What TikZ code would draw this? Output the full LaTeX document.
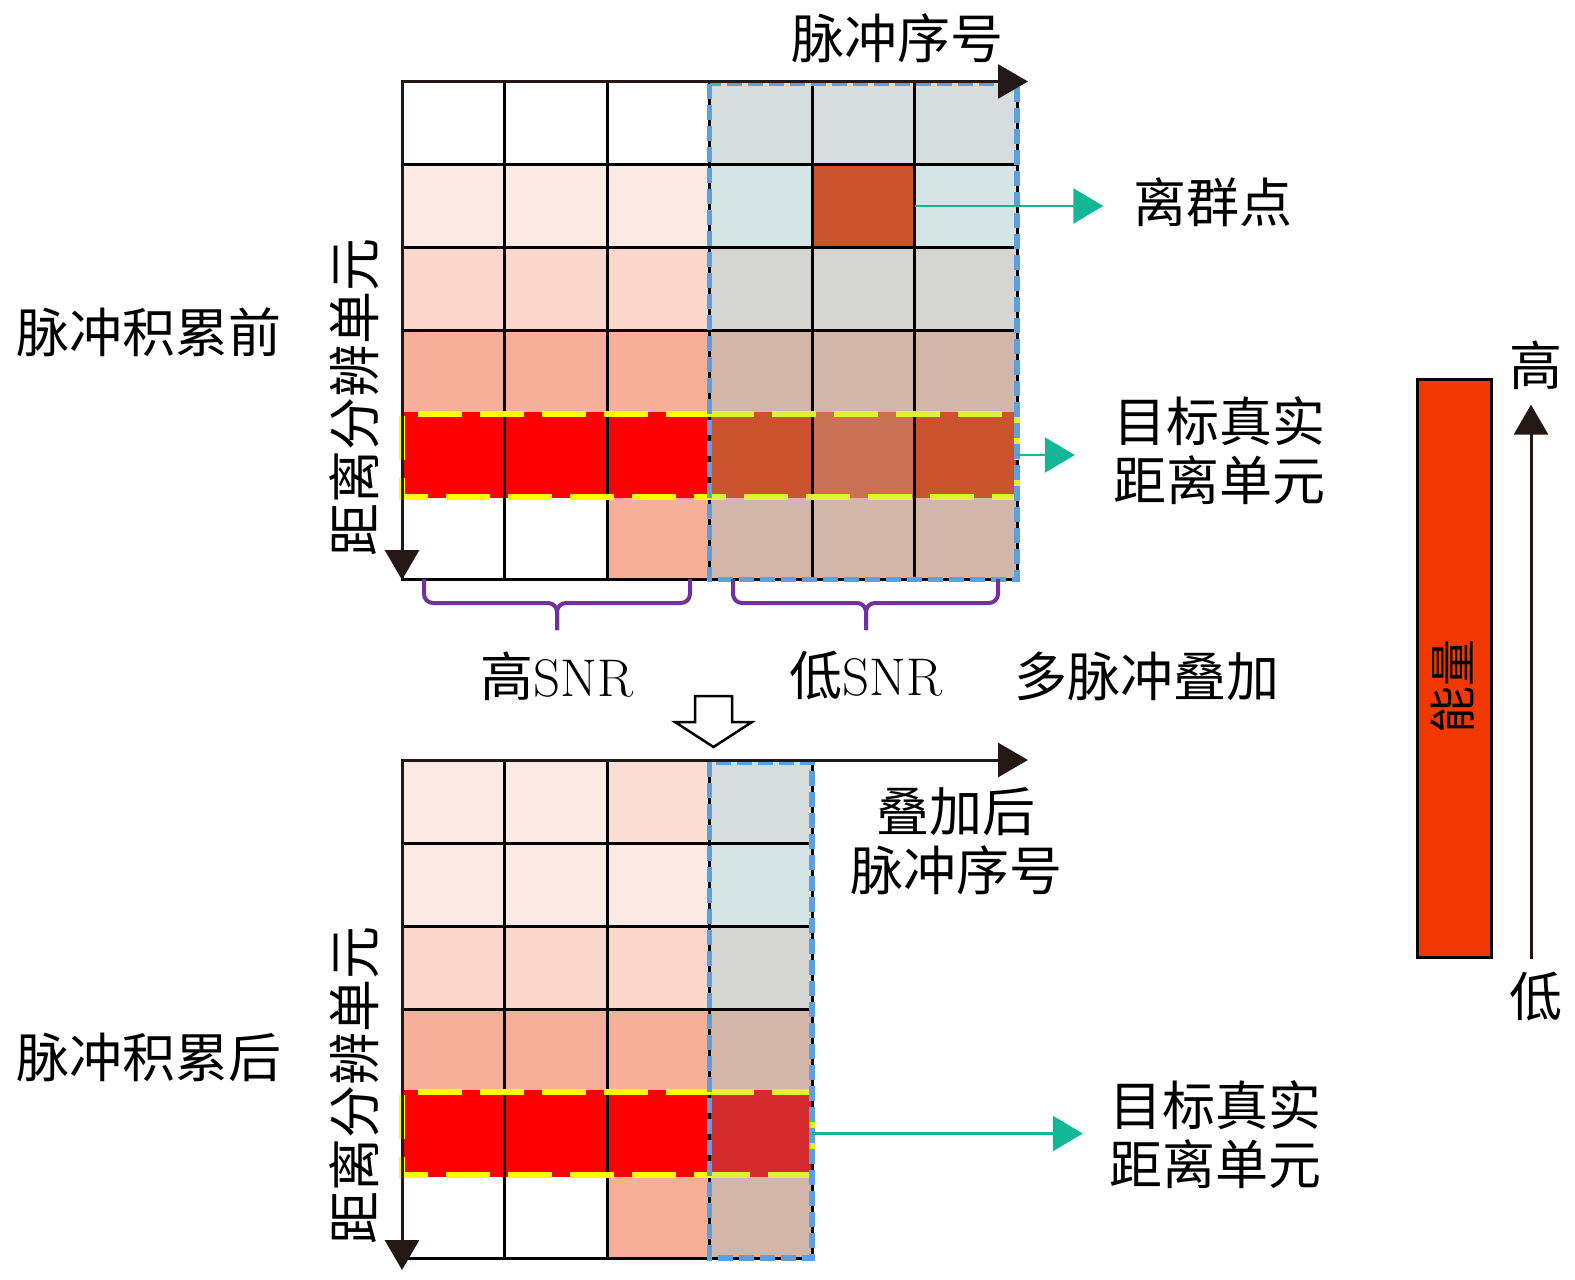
\documentclass[tikz,border=0pt]{standalone}
\usepackage{fontspec}
\newfontfamily\cjk{Noto Sans CJK SC}
\usepackage{tikz}
\usetikzlibrary{arrows.meta}

\definecolor{axisblack}{HTML}{231815}
\definecolor{tealc}{HTML}{13B796}
\definecolor{purplec}{HTML}{7030A0}
\definecolor{bluec}{HTML}{5DA0E0}
\definecolor{yellowc}{HTML}{FFFF00}
\definecolor{ygreenc}{HTML}{E2F03A}
\definecolor{barc}{HTML}{F03800}
% cell colours
\definecolor{pA}{HTML}{FCEAE4}
\definecolor{pB}{HTML}{FBDFD6}
\definecolor{pC}{HTML}{FAD6CC}
\definecolor{pD}{HTML}{F7AF99}
\definecolor{pR}{HTML}{FF0000}
\definecolor{gA}{HTML}{D5DEDC}
\definecolor{gB}{HTML}{D5E5E5}
\definecolor{gC}{HTML}{D5D6D2}
\definecolor{gD}{HTML}{D2B6AA}
\definecolor{gO}{HTML}{CB532E}
\definecolor{gM}{HTML}{CC7254}
\definecolor{gR}{HTML}{D42B2E}

\begin{document}
\begin{tikzpicture}[x=1pt, y=-1pt]

   %Styles of cells, boxes and arrows
   \tikzstyle{cell} = [rectangle, minimum width=102.5pt, minimum height=83pt, inner sep=0pt, outer sep=0pt, draw=black, line width=3pt]
   \tikzstyle{axisarrow} = [draw=axisblack, line width=3pt, -{Triangle[length=30pt,width=34pt]}]
   \tikzstyle{tealarrow} = [draw=tealc, line width=2.5pt, -{Triangle[length=30pt,width=35pt]}]
   \tikzstyle{bluebox} = [draw=bluec, line width=5.5pt, dash pattern=on 15pt off 6pt]
   \tikzstyle{yellowbox} = [draw=yellowc, line width=6pt, dash pattern=on 44pt off 18pt]
   \tikzstyle{bracket} = [draw=purplec, line width=4pt, rounded corners=9pt]
   \tikzstyle{txt} = [inner sep=0pt, align=center, font=\fontsize{53}{59}\selectfont]
   \tikzstyle{energybar} = [rectangle, minimum width=74pt, minimum height=578pt, draw=black, line width=3pt, fill=barc]

   \useasboundingbox (0,0) rectangle (1575,1280);

   %Grid before integration
   \foreach \cols [count=\r] in {{white,white,white,gA,gA,gA},{pA,pA,pA,gB,gO,gB},{pC,pC,pC,gC,gC,gC},{pD,pD,pD,gD,gD,gD},{pR,pR,pR,gO,gM,gO},{white,white,pD,gD,gD,gD}} {
      \foreach \col [count=\c] in \cols {
         \node[cell, fill=\col] (pre-\r-\c) at ({402+(\c-0.5)*102.5}, {81.5+(\r-0.5)*83}) {};
      }
   }
   %no horizontal lines along the target row
   \foreach \col [count=\c] in {pR,pR,pR,gO,gM,gO} {
      \draw[draw=\col, line width=3.5pt] ([xshift=1.5pt]pre-5-\c.north west) -- ([xshift=-1.5pt]pre-5-\c.north east);
      \draw[draw=\col, line width=3.5pt] ([xshift=1.5pt]pre-5-\c.south west) -- ([xshift=-1.5pt]pre-5-\c.south east);
   }

   %Grid after integration
   \foreach \cols [count=\r] in {{pA,pA,pB,gA},{pA,pA,pA,gB},{pC,pC,pC,gC},{pD,pD,pD,gD},{pR,pR,pR,gR},{white,white,pD,gD}} {
      \foreach \col [count=\c] in \cols {
         \node[cell, fill=\col] (post-\r-\c) at ({402+(\c-0.5)*102.5}, {760+(\r-0.5)*83}) {};
      }
   }
   \foreach \col [count=\c] in {pR,pR,pR,gR} {
      \draw[draw=\col, line width=3.5pt] ([xshift=1.5pt]post-5-\c.north west) -- ([xshift=-1.5pt]post-5-\c.north east);
      \draw[draw=\col, line width=3.5pt] ([xshift=1.5pt]post-5-\c.south west) -- ([xshift=-1.5pt]post-5-\c.south east);
   }

   %Dashed boxes
   \draw[yellowbox] (pre-5-4.north west) -| (pre-5-1.south west) -- (pre-5-4.south west);
   \draw[yellowbox, draw=ygreenc] (pre-5-4.north west) -| (pre-5-6.south east) -- (pre-5-4.south west);
   \draw[yellowbox] (post-5-4.north west) -| (post-5-1.south west) -- (post-5-4.south west);
   \draw[yellowbox, draw=ygreenc] (post-5-4.north west) -| (post-5-4.south east) -- (post-5-4.south west);
   \draw[bluebox] ([yshift=-2pt]pre-1-4.north west) rectangle (pre-6-6.south east);
   \draw[bluebox] ([yshift=-2pt]post-1-4.north west) rectangle (post-6-4.south east);

   %Axes
   \coordinate (pre-xend) at (1028,81.5);
   \coordinate (pre-yend) at (402,580);
   \coordinate (post-xend) at (1028,760);
   \coordinate (post-yend) at (402,1270);
   \draw[axisarrow] (pre-1-1.north west) -- (pre-xend);
   \draw[axisarrow] (pre-1-1.north west) -- (pre-yend);
   \draw[axisarrow] (post-1-1.north west) -- (post-xend);
   \draw[axisarrow] (post-1-1.north west) -- (post-yend);

   %Texts
   \node[txt] (seq-pre) at (897,38) {\cjk 脉冲序号};
   \node[txt] (seq-post) at (956,841) {\cjk 叠加后\\\cjk 脉冲序号};
   \node[txt] (before) at (149,332) {\cjk 脉冲积累前};
   \node[txt] (after) at (149,1057) {\cjk 脉冲积累后};
   \node[txt, rotate=90] (range-pre) at (354,397) {\cjk 距离分辨单元};
   \node[txt, rotate=90] (range-post) at (354,1085) {\cjk 距离分辨单元};
   \node[txt] (outlier) at (1213,202) {\cjk 离群点};
   \node[txt] (target-pre) at (1219,451) {\cjk 目标真实\\\cjk 距离单元};
   \node[txt] (target-post) at (1215,1135) {\cjk 目标真实\\\cjk 距离单元};
   \node[txt] (hisnr) at (557,676) {{\cjk 高}SNR};
   \node[txt] (losnr) at (866,676) {{\cjk 低}SNR};
   \node[txt] (multi) at (1147,676) {\cjk 多脉冲叠加};

   %Teal arrows
   \draw[tealarrow, shorten >=30pt] (pre-2-5.east) -- (pre-2-5.east -| outlier.west);
   \draw[tealarrow, shorten >=38pt] (pre-5-6.east) -- (pre-5-6.east -| target-pre.west);
   \draw[tealarrow, shorten >=26pt] (post-5-4.east) -- (post-5-4.east -| target-post.west);

   %Braces
   \draw[bracket] (424,579) |- (557,603) -- (557,630);
   \draw[bracket] (690,579) |- (557,603) -- (557,630);
   \draw[bracket] (733,579) |- (866,603) -- (866,630);
   \draw[bracket] (998,579) |- (866,603) -- (866,630);

   %Hollow arrow
   \draw[line width=2.5pt, fill=white] (695,696) -- (732,696) -- (732,722) -- (752,722) -- (713.5,747) -- (675,722) -- (695,722) -- cycle;

   %Energy scale
   \node[energybar] (bar) at (1454,668) {};
   \node[txt, rotate=90, font=\fontsize{47}{50}\selectfont] (energy) at (1453,686) {\cjk 能量};
   \node[txt] (high) at (1536,365) {\cjk 高};
   \node[txt] (low) at (1536,997) {\cjk 低};
   \draw[axisarrow, shorten <=13pt, shorten >=15pt] ([xshift=-5pt]low.north) -- ([xshift=-5pt]high.south);

\end{tikzpicture}
\end{document}
